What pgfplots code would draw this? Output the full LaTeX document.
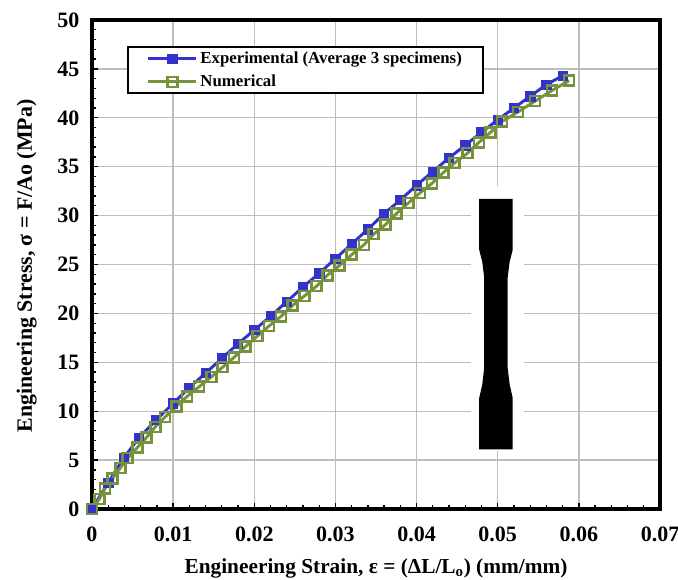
\documentclass[border=0pt]{standalone}
\usepackage{pgfplots}
\pgfplotsset{compat=1.18}
\usepackage{fontspec}
\setmainfont{Liberation Serif}
\definecolor{expblue}{HTML}{3333CC}
\definecolor{numgreen}{HTML}{76923C}
\definecolor{gridgray}{HTML}{BEBEBE}
\begin{document}
\begin{tikzpicture}
\path[use as bounding box] (-69pt,-52.5pt) rectangle (439.5pt,381.75pt);
\begin{axis}[
  scale only axis, width=426pt, height=366.75pt,
  at={(0pt,0pt)}, anchor=south west,
  xmin=0, xmax=0.07, ymin=0, ymax=50,
  scaled x ticks=false, scaled y ticks=false,
  xtick={0,0.01,0.02,0.03,0.04,0.05,0.06,0.07},
  xticklabels={0,0.01,0.02,0.03,0.04,0.05,0.06,0.07},
  ytick={0,5,10,15,20,25,30,35,40,45,50},
  yticklabels={0,5,10,15,20,25,30,35,40,45,50},
  minor x tick num=4, minor y tick num=4,
  tick align=inside, tick pos=left,
  major tick length=4.5pt, minor tick length=3pt,
  tick style={black, line width=1pt},
  axis line style={black, line width=2.6pt},
  grid=major, major grid style={gridgray, line width=1pt},
  clip=false,
  ticklabel style={font=\fontsize{16.5}{18}\selectfont\bfseries},
  xticklabel style={yshift=-10pt},
  yticklabel style={xshift=-6pt},
  xlabel={Engineering Strain, ε = (ΔL/L\textsubscript{o}) (mm/mm)},
  ylabel={Engineering Stress, σ = F/Ao (MPa)},
  xlabel style={font=\fontsize{16}{18}\selectfont\bfseries, at={(axis description cs:0.5,0)}, anchor=north, yshift=-33.5pt},
  ylabel style={font=\fontsize{16.4}{18}\selectfont\bfseries, at={(axis description cs:0,0.5)}, anchor=south, yshift=38pt, xshift=-1pt},
  legend style={at={(axis cs:0.00432,47.35)}, anchor=north west, draw=black, line width=1.7pt, fill=white,
    font=\fontsize{12.6}{14}\selectfont\bfseries, inner xsep=14pt, inner ysep=1.5pt, row sep=3.2pt},
  legend cell align=left,
  legend image code/.code={\draw[mark repeat=2,mark phase=2,#1] plot coordinates {(0pt,0pt)(18pt,0pt)(36pt,0pt)};},
]
% white patch behind specimen
\addplot[draw=none, fill=white, forget plot] coordinates {(0.0467,5.9) (0.0533,5.9) (0.0533,33.0) (0.0467,33.0)} --cycle;
% specimen
\addplot[draw=none, fill=black, forget plot] coordinates {
 (0.04772,6.1) (0.05185,6.1) (0.05185,11.35) (0.05148,12.7) (0.05123,14.4)
 (0.05123,23.7) (0.05148,25.3) (0.05185,26.5) (0.05185,31.7) (0.04772,31.7)
 (0.04772,26.5) (0.04809,25.3) (0.04833,23.7) (0.04833,14.4) (0.04809,12.7) (0.04772,11.35)
} -- cycle;
\addplot[expblue, line width=2.2pt, mark=square*, mark size=3.5pt, mark options={fill=expblue, draw=expblue, line width=0.5pt, solid}] coordinates {
 (0,0) (0.002,2.7) (0.0039,5.2) (0.0058,7.3) (0.0079,9.1) (0.01,10.8) (0.012,12.4) (0.014,13.9)
 (0.016,15.4) (0.018,16.9) (0.02,18.3) (0.022,19.7) (0.024,21.2) (0.026,22.7) (0.028,24.1)
 (0.03,25.6) (0.032,27.1) (0.034,28.6) (0.036,30.2) (0.038,31.6) (0.04,33.1) (0.042,34.5)
 (0.044,35.9) (0.046,37.2) (0.048,38.5) (0.05,39.8) (0.052,41.0) (0.054,42.2) (0.056,43.4) (0.058,44.3)
};
\addlegendentry{Experimental (Average 3 specimens)}
\addplot[numgreen, line width=2.2pt, mark=square, mark size=3.75pt, mark options={fill=none, draw=numgreen, line width=1.9pt, solid}] coordinates {
 (0,0) (0.0009,1.0) (0.0016,2.1) (0.0025,3.1) (0.0035,4.2) (0.0044,5.2) (0.0056,6.3) (0.0067,7.3)
 (0.0078,8.4) (0.009,9.4) (0.0104,10.5) (0.0117,11.5) (0.0132,12.5) (0.0147,13.5) (0.0161,14.5)
 (0.0175,15.5) (0.0189,16.6) (0.0204,17.7) (0.0218,18.7) (0.0233,19.7) (0.0247,20.8) (0.0262,21.8)
 (0.0277,22.8) (0.029,23.9) (0.0305,24.9) (0.032,26.0) (0.0335,27.0) (0.0347,28.1) (0.0362,29.1)
 (0.0375,30.2) (0.039,31.3) (0.0404,32.3) (0.0419,33.3) (0.0433,34.4) (0.0447,35.4) (0.0463,36.4)
 (0.0477,37.5) (0.0491,38.5) (0.0505,39.6) (0.0525,40.6) (0.0546,41.7) (0.0567,42.8) (0.0588,43.8)
};
\addlegendentry{Numerical}
\end{axis}
\end{tikzpicture}
\end{document}
